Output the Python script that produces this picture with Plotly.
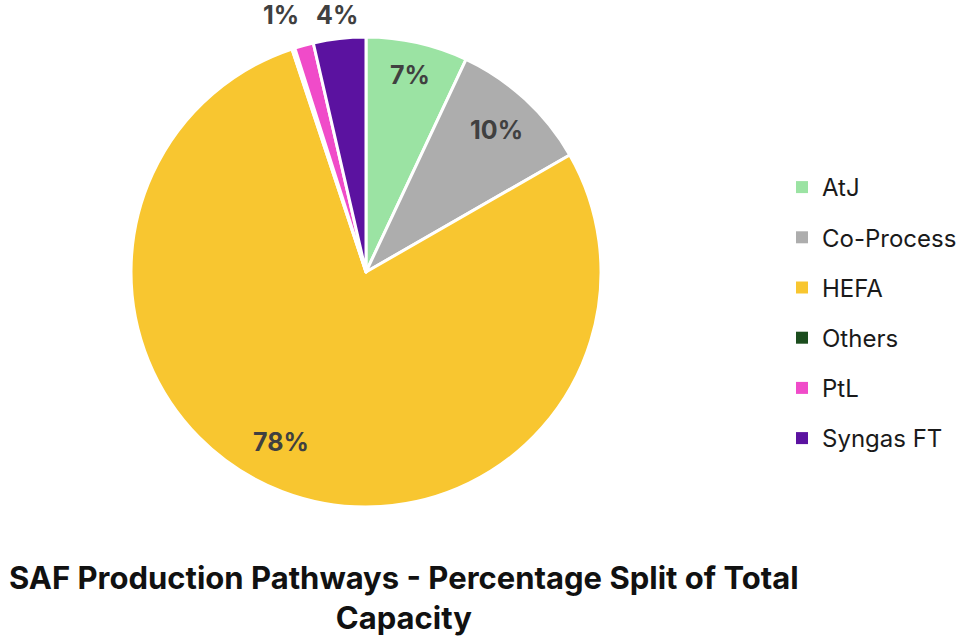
import math
import plotly.graph_objects as go

# Share of total SAF production capacity by pathway (%)
pathways = ["AtJ", "Co-Process", "HEFA", "Others", "PtL", "Syngas FT"]
shares = [7.0, 9.7, 78.2, 0.2, 1.3, 3.6]
colors = ["#9BE3A3", "#ADADAD", "#F8C630", "#1B4D1E", "#F04BC9", "#5B12A0"]

W, H = 970, 637
cx, cy, r = 366, 272, 235

fig = go.Figure()
fig.add_trace(go.Pie(
    labels=pathways,
    values=shares,
    sort=False,
    direction="clockwise",
    rotation=0,
    marker=dict(colors=colors, line=dict(color="white", width=3)),
    textinfo="none",
    showlegend=False,
    hoverinfo="label+percent",
    domain=dict(x=[(cx - r) / W, (cx + r) / W],
                y=[(H - cy - r) / H, (H - cy + r) / H]),
))

# Legend entries, one group each so they can be spaced apart
for name, col in zip(pathways, colors):
    fig.add_trace(go.Scatter(
        x=[None], y=[None], mode="markers", name=name,
        marker=dict(symbol="square", size=13, color=col),
        legendgroup=name, showlegend=True,
    ))

# Percentage labels placed along each slice's bisector
label_style = {  # radius factor, x shift, y shift (px)
    "AtJ": (0.86, 0, 0),
    "Co-Process": (0.82, 0, 0),
    "HEFA": (0.84, -15, 14),
    "PtL": (1.09, -17, 10),
    "Syngas FT": (1.09, 0, 2),
}
total = sum(shares)
annotations = []
start = 0.0
for name, v in zip(pathways, shares):
    mid = start + v / 2
    start += v
    if name not in label_style:
        continue
    k, dx, dy = label_style[name]
    theta = 2 * math.pi * mid / total
    px = cx + k * r * math.sin(theta)
    py = cy - k * r * math.cos(theta)
    annotations.append(dict(
        text=f"{v / total:.0%}", x=px / W, y=1 - py / H,
        xref="paper", yref="paper", xanchor="center", yanchor="middle",
        xshift=dx, yshift=dy, showarrow=False,
        font=dict(family="Inter", size=25, color="#404040", weight="bold"),
    ))

annotations.append(dict(
    text="SAF Production Pathways - Percentage Split of Total<br>Capacity",
    x=404 / W, y=1 - 597 / H, xref="paper", yref="paper",
    xanchor="center", yanchor="middle", showarrow=False,
    font=dict(family="Inter", size=31, color="#111111", weight="bold"),
))

fig.update_layout(
    width=W, height=H,
    margin=dict(l=0, r=0, t=0, b=0),
    paper_bgcolor="white", plot_bgcolor="white",
    xaxis=dict(visible=False), yaxis=dict(visible=False),
    legend=dict(
        x=782 / W, y=1 - 165 / H, xanchor="left", yanchor="top",
        font=dict(family="Inter", size=24, color="#1a1a1a"),
        tracegroupgap=16, itemsizing="constant",
        bgcolor="rgba(0,0,0,0)",
    ),
    annotations=annotations,
)

fig.write_html("out.html")
